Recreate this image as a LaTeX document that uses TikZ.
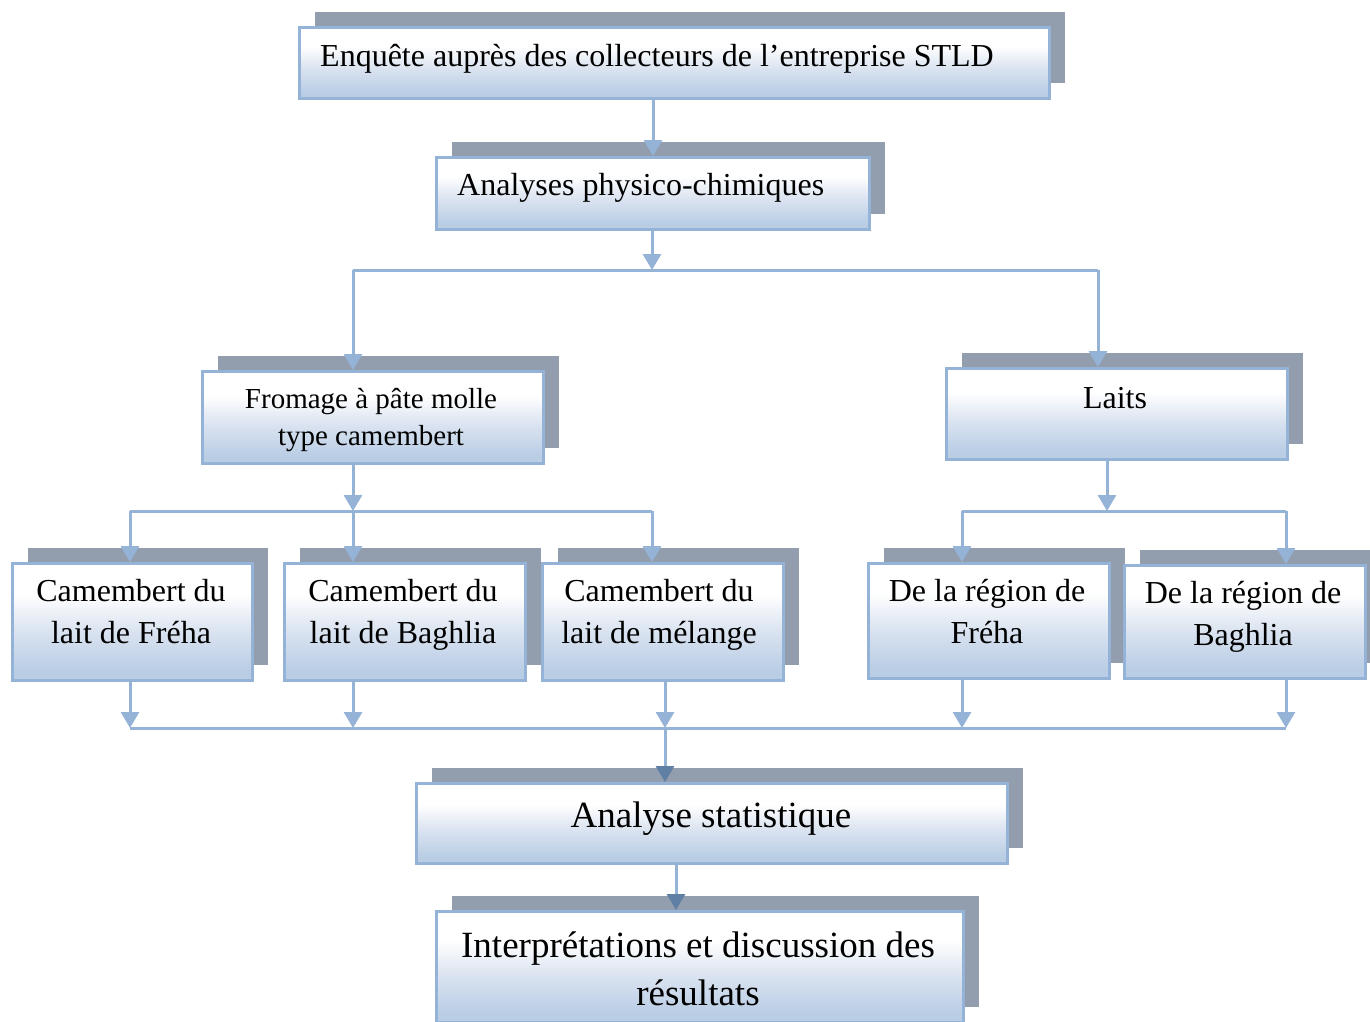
\documentclass[tikz,border=0pt]{standalone}
\usepackage{fontspec}
\setmainfont{Liberation Serif}
\usetikzlibrary{arrows.meta,shadows}

\definecolor{edge}{RGB}{149,179,215}
\definecolor{backshade}{RGB}{146,158,174}
\definecolor{boxbot}{RGB}{185,205,229}
\definecolor{boxmid}{RGB}{218,227,240}
\definecolor{tipdark}{RGB}{96,127,165}

% white at the top, fading to pale blue at the bottom
\pgfdeclareverticalshading{boxfade}{100bp}{color(0bp)=(boxbot); color(29bp)=(boxbot); color(46bp)=(boxmid); color(62bp)=(white); color(100bp)=(white)}

\newcommand{\twolines}[2]{\begin{tabular}[t]{@{}c@{}}#1\\#2\end{tabular}}

\tikzset{
  stepbox/.style={draw=edge, line width=2.8pt, shading=boxfade, anchor=north west,
    inner sep=0pt,
    general shadow={fill=backshade, shadow xshift=16pt, shadow yshift=15pt}},
  txt/.style={inner sep=0pt, text=black},
  fmid/.style={font=\fontsize{32}{42}\selectfont},
  fsmall/.style={font=\fontsize{29}{37}\selectfont},
  fbig/.style={font=\fontsize{37}{48}\selectfont},
  conn/.style={draw=edge, line width=3pt},
  arr/.style={conn, -{Triangle[width=18pt,length=16pt]}},
  darkarr/.style={conn, -{Triangle[width=18pt,length=16pt,color=tipdark]}}
}

\begin{document}
\begin{tikzpicture}[x=1pt,y=-1pt]
  \useasboundingbox (0,0) rectangle (1370,1021);
  \fill[white] (0,0) rectangle (1370,1021);
  \clip (0,0) rectangle (1370,1021);

  % boxes
  \node[stepbox, minimum width=750pt, minimum height=71pt]  (enq) at (298,26)  {};
  \node[stepbox, minimum width=433pt, minimum height=72pt]  (ana) at (435,156) {};
  \node[stepbox, minimum width=341pt, minimum height=92pt]  (fro) at (201,370) {};
  \node[stepbox, minimum width=341pt, minimum height=91pt]  (lai) at (945,367) {};
  \node[stepbox, minimum width=240pt, minimum height=117pt] (cf)  at (11,562)  {};
  \node[stepbox, minimum width=241pt, minimum height=117pt] (cb)  at (283,562) {};
  \node[stepbox, minimum width=241pt, minimum height=117pt] (cm)  at (541,562) {};
  \node[stepbox, minimum width=241pt, minimum height=115pt] (rf)  at (867,562) {};
  \node[stepbox, minimum width=241pt, minimum height=113pt] (rb)  at (1123,564) {};
  \node[stepbox, minimum width=591pt, minimum height=80pt]  (sta) at (415,782) {};
  \node[stepbox, minimum width=527pt, minimum height=111pt] (int) at (435,910) {};

  % texts
  \node[txt, fmid, anchor=base west] (enq-t) at (320,66) {Enquête auprès des collecteurs de l’entreprise STLD};
  \node[txt, fmid, anchor=base west] (ana-t) at (457,195) {Analyses physico-chimiques};
  \node[txt, fsmall, anchor=base] (fro-t) at (371,408) {\twolines{Fromage à pâte molle}{type camembert}};
  \node[txt, fmid, anchor=base] (lai-t) at (1115,408) {Laits};
  \node[txt, fmid, anchor=base] (cf-t) at (131,601) {\twolines{Camembert du}{lait de Fréha}};
  \node[txt, fmid, anchor=base] (cb-t) at (403,601) {\twolines{Camembert du}{lait de Baghlia}};
  \node[txt, fmid, anchor=base] (cm-t) at (659,601) {\twolines{Camembert du}{lait de mélange}};
  \node[txt, fmid, anchor=base] (rf-t) at (987,601) {\twolines{De la région de}{Fréha}};
  \node[txt, fmid, anchor=base] (rb-t) at (1243,603) {\twolines{De la région de}{Baghlia}};
  \node[txt, fbig, anchor=base] (sta-t) at (711,827) {Analyse statistique};
  \node[txt, fbig, anchor=base] (int-t) at (698,957) {\twolines{Interprétations et discussion des}{résultats}};

  % junction points of the connectors
  \coordinate (k1) at (653,0);
  \coordinate (k2) at (652,270);
  \coordinate (k3) at (676,0);
  \coordinate (a1) at (353,270);
  \coordinate (a2) at (1098,270);
  \coordinate (b1) at (130,511);
  \coordinate (b2) at (353,511);
  \coordinate (b3) at (652,511);
  \coordinate (c1) at (962,511);
  \coordinate (c2) at (1107,511);
  \coordinate (c3) at (1286,511);
  \coordinate (d1) at (130,728);
  \coordinate (d2) at (353,728);
  \coordinate (d3) at (665,728);
  \coordinate (d4) at (962,728);
  \coordinate (d5) at (1286,728);

  % top of the chart
  \draw[arr] (enq.south -| k1) -- (ana.north -| k1);
  \draw[arr] (ana.south -| k2) -- (k2);
  \draw[conn] (a1) -- (a2);
  \draw[arr] (a1) -- (fro.north -| a1);
  \draw[arr] (a2) -- (lai.north -| a2);

  % cheese branch
  \draw[arr] (fro.south -| b2) -- (b2);
  \draw[conn] (b1) -- (b3);
  \draw[arr] (b1) -- (cf.north -| b1);
  \draw[arr] (b2) -- (cb.north -| b2);
  \draw[arr] (b3) -- (cm.north -| b3);

  % milk branch
  \draw[arr] (lai.south -| c2) -- (c2);
  \draw[conn] (c1) -- (c3);
  \draw[arr] (c1) -- (rf.north -| c1);
  \draw[arr] (c3) -- (rb.north -| c3);

  % gathering towards the statistics
  \draw[arr] (cf.south -| d1) -- (d1);
  \draw[arr] (cb.south -| d2) -- (d2);
  \draw[arr] (cm.south -| d3) -- (d3);
  \draw[arr] (rf.south -| d4) -- (d4);
  \draw[arr] (rb.south -| d5) -- (d5);
  \draw[conn] (d1) -- (d5);
  \draw[darkarr] (d3) -- (sta.north -| d3);
  \draw[darkarr] (sta.south -| k3) -- (int.north -| k3);
\end{tikzpicture}
\end{document}
